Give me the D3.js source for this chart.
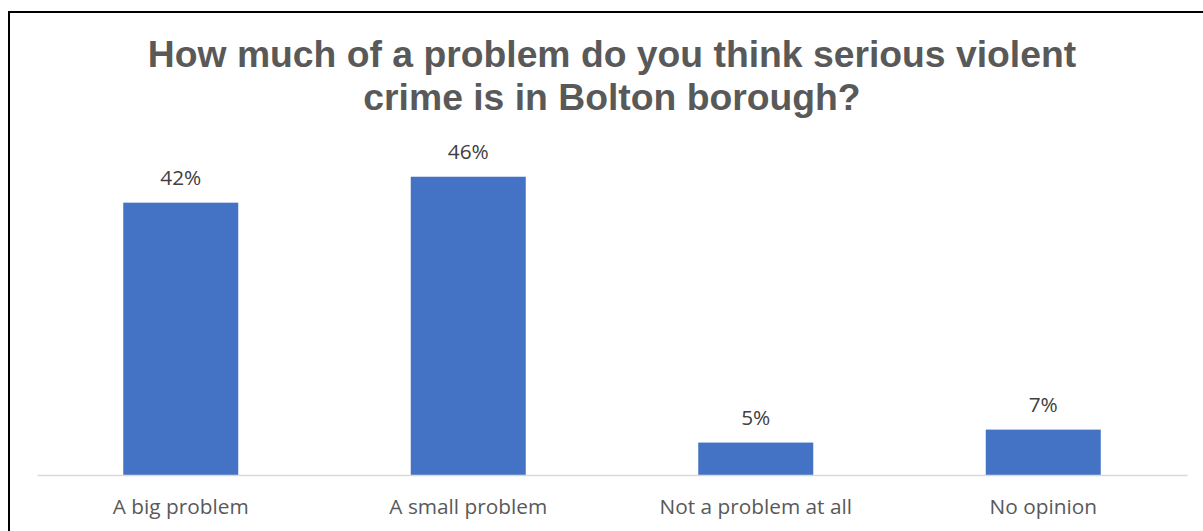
<!DOCTYPE html>
<html><head><meta charset="utf-8">
<script src="https://cdn.jsdelivr.net/npm/d3@7"></script>
<style>html,body{margin:0;padding:0;background:#fff;overflow:hidden}</style>
</head><body>
<svg id="chart" width="1203" height="531"></svg>
<script>
const categories = ["A big problem", "A small problem", "Not a problem at all", "No opinion"];
const values = [42, 46, 5, 7];
const valueLabels = ["42%", "46%", "5%", "7%"];
const titleLines = ["How much of a problem do you think serious violent", "crime is in Bolton borough?"];

const svg = d3.select("#chart");
// outer frame (left and top visible)
svg.append("rect").attr("x", 9).attr("y", 12).attr("width", 1300).attr("height", 600)
  .attr("fill", "#fff").attr("stroke", "#000").attr("stroke-width", 2);

const left = 37, right = 1187, base = 475;
const x = d3.scaleBand().domain(categories).range([left, right]).paddingInner(0.6).paddingOuter(0.3);
const y = d3.scaleLinear().domain([0, 50]).range([base, 150.8]);

svg.append("g").selectAll("text").data(titleLines).join("text")
  .attr("x", 612).attr("y", (d, i) => 67 + i * 43)
  .attr("text-anchor", "middle")
  .attr("font-family", "'Liberation Sans', Arial, sans-serif")
  .attr("font-weight", "bold").attr("font-size", 37.3).attr("fill", "#595959")
  .text(d => d);

svg.append("g").selectAll("rect").data(values).join("rect")
  .attr("x", (d, i) => x(categories[i]))
  .attr("y", d => y(d))
  .attr("width", x.bandwidth())
  .attr("height", d => base - y(d))
  .attr("fill", "#4472C4");

const axis = svg.append("g").attr("transform", `translate(0,${base})`)
  .call(d3.axisBottom(x).tickSize(0).tickPadding(0));
axis.select(".domain").attr("stroke", "#d9d9d9").attr("stroke-width", 1.5);
axis.selectAll("text").attr("dy", 0).attr("y", 39)
  .attr("font-family", "'Open Sans', sans-serif").attr("font-size", 20.8).attr("fill", "#595959");

svg.append("g").selectAll("text").data(values).join("text")
  .attr("x", (d, i) => x(categories[i]) + x.bandwidth() / 2)
  .attr("y", d => y(d) - 17.5)
  .attr("text-anchor", "middle")
  .attr("font-family", "'Open Sans', sans-serif").attr("font-size", 20.8).attr("fill", "#404040")
  .text((d, i) => valueLabels[i]);
</script>
</body></html>
